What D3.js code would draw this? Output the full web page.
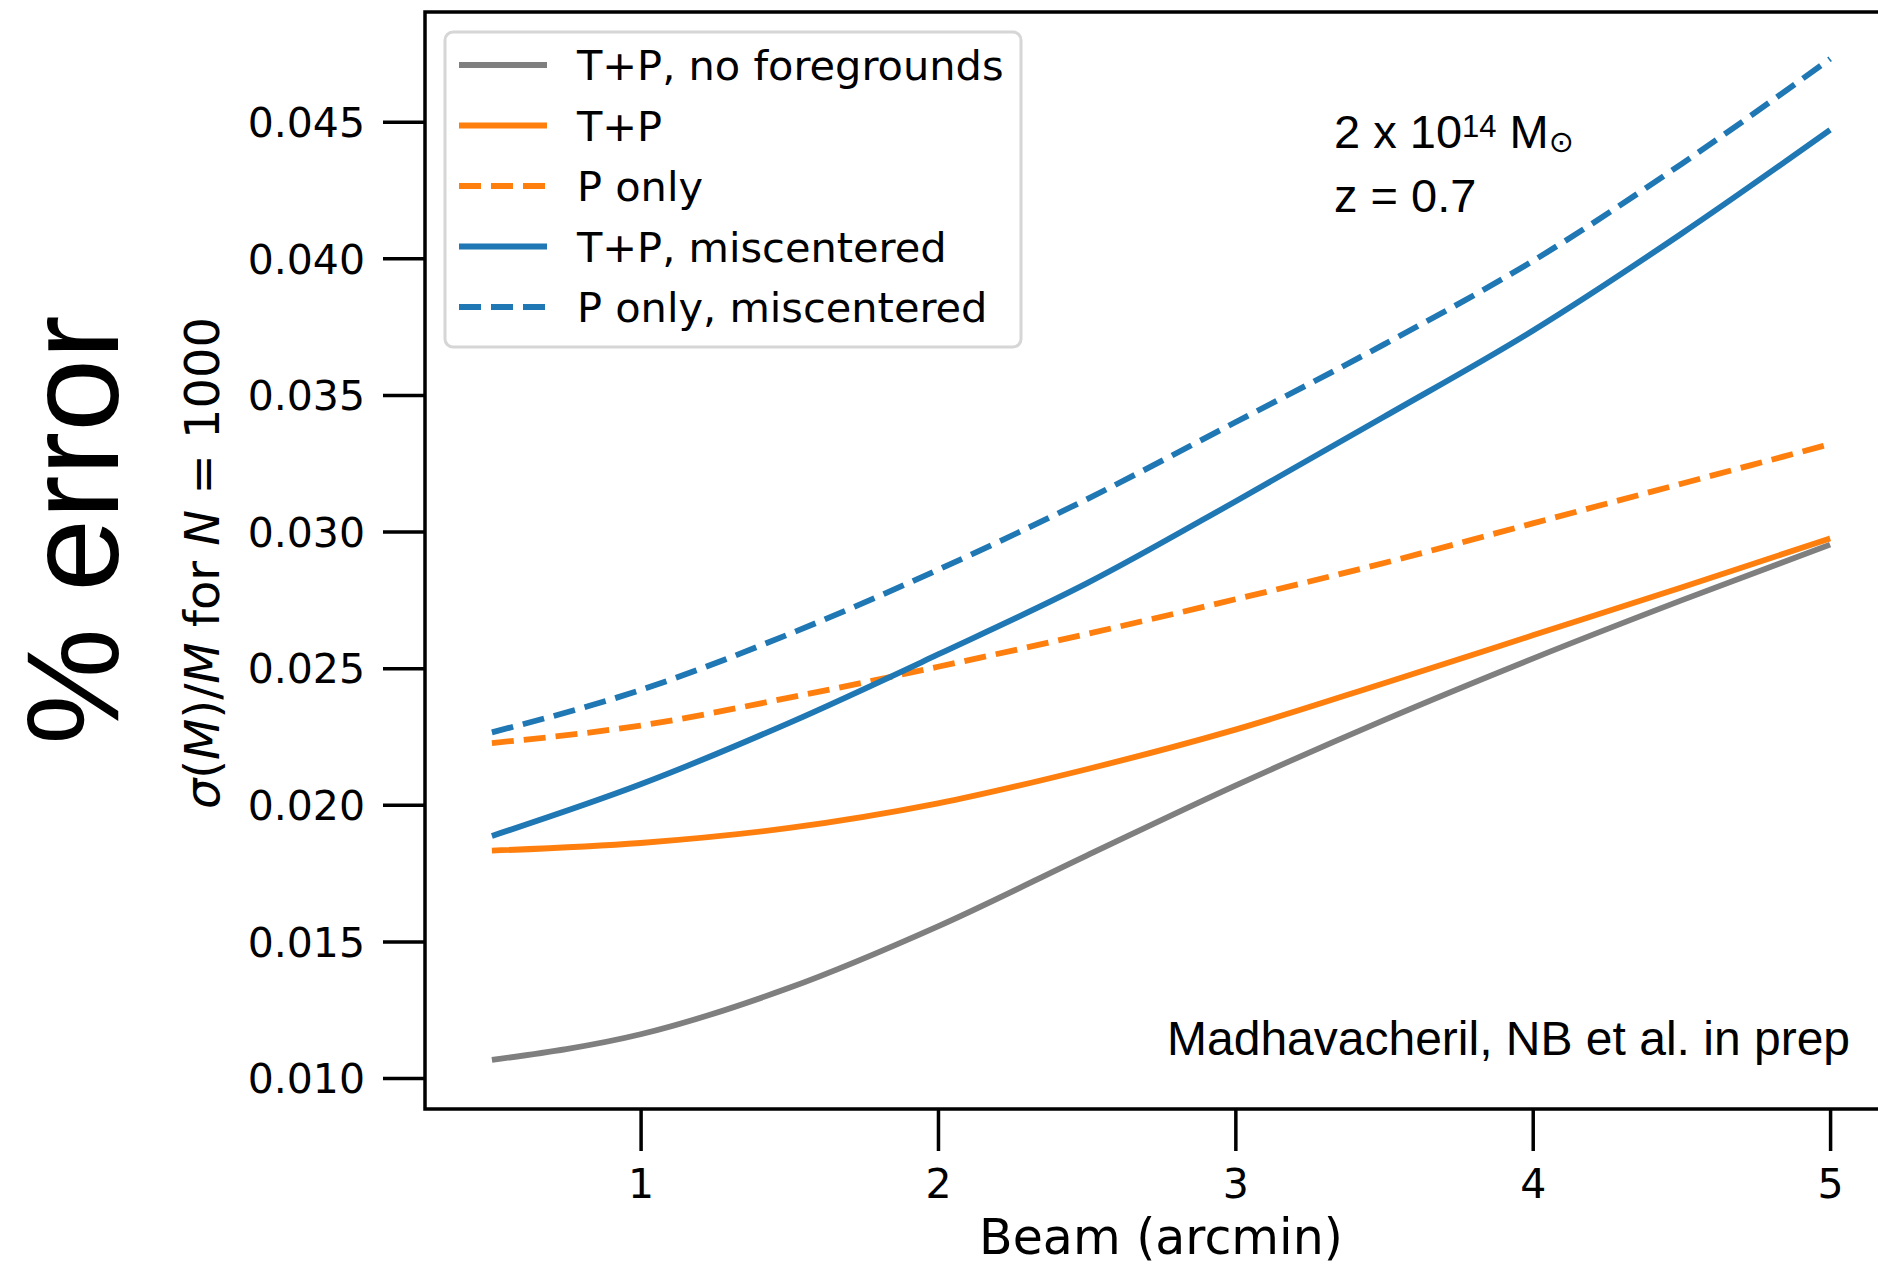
<!DOCTYPE html>
<html>
<head>
<meta charset="utf-8">
<script src="https://cdn.jsdelivr.net/npm/d3@7"></script>
<style>
  html, body { margin: 0; padding: 0; background: #fff; }
  svg { display: block; }
</style>
</head>
<body>
<div id="chart"></div>
<script>
// Beam FWHM in arcmin
const beam = [0.5, 1, 1.5, 2, 2.5, 3, 3.5, 4, 4.5, 5];

// Fractional mass error sigma(M)/M for N = 1000 clusters
const tpNoForegrounds = [0.01066, 0.01160, 0.01330, 0.01555, 0.01814, 0.02070, 0.02310, 0.02535, 0.02748, 0.02952];
const tp              = [0.01832, 0.01860, 0.01915, 0.02005, 0.02130, 0.02275, 0.02445, 0.02620, 0.02795, 0.02975];
const pOnly           = [0.02226, 0.02290, 0.02392, 0.02505, 0.02625, 0.02752, 0.02885, 0.03030, 0.03175, 0.03320];
const tpMiscentered   = [0.01886, 0.02075, 0.02300, 0.02550, 0.02810, 0.03110, 0.03420, 0.03735, 0.04090, 0.04470];
const pOnlyMiscentered= [0.02265, 0.02420, 0.02625, 0.02860, 0.03118, 0.03400, 0.03685, 0.03990, 0.04345, 0.04730];

const seriesNames = ["T+P, no foregrounds", "T+P", "P only", "T+P, miscentered", "P only, miscentered"];

const xTicks = [1, 2, 3, 4, 5];
const xTickLabels = ["1", "2", "3", "4", "5"];
const yTicks = [0.010, 0.015, 0.020, 0.025, 0.030, 0.035, 0.040, 0.045];
const yTickLabels = ["0.010", "0.015", "0.020", "0.025", "0.030", "0.035", "0.040", "0.045"];

const W = 1878, H = 1267;
const plot = { left: 425, right: 1897, top: 12, bottom: 1109 };

const svg = d3.select("#chart").append("svg")
  .attr("width", W).attr("height", H)
  .attr("viewBox", `0 0 ${W} ${H}`);

const x = d3.scaleLinear().domain([0.275, 5.225]).range([plot.left, plot.right]);
const y = d3.scaleLinear().domain([0.008865, 0.049015]).range([plot.bottom, plot.top]);

const styles = [
  { color: "#7f7f7f", dash: null },
  { color: "#ff7f0e", dash: null },
  { color: "#ff7f0e", dash: "22,10" },
  { color: "#1f77b4", dash: null },
  { color: "#1f77b4", dash: "22,10" }
];
const seriesValues = [tpNoForegrounds, tp, pOnly, tpMiscentered, pOnlyMiscentered];

svg.append("defs").append("clipPath").attr("id", "plotClip")
  .append("rect")
  .attr("x", plot.left).attr("y", plot.top)
  .attr("width", plot.right - plot.left).attr("height", plot.bottom - plot.top);

const line = d3.line()
  .x(d => x(d[0]))
  .y(d => y(d[1]))
  .curve(d3.curveMonotoneX);

const curves = svg.append("g").attr("clip-path", "url(#plotClip)");
seriesValues.forEach((vals, i) => {
  curves.append("path")
    .datum(beam.map((b, j) => [b, vals[j]]))
    .attr("d", line)
    .attr("fill", "none")
    .attr("stroke", styles[i].color)
    .attr("stroke-width", 5.8)
    .attr("stroke-dasharray", styles[i].dash)
    .attr("stroke-linejoin", "round");
});

// Axes
const xAxis = d3.axisBottom(x).tickValues(xTicks)
  .tickFormat((d, i) => xTickLabels[i]).tickSize(42).tickPadding(18);
const yAxis = d3.axisLeft(y).tickValues(yTicks)
  .tickFormat((d, i) => yTickLabels[i]).tickSize(42).tickPadding(18);

const gx = svg.append("g").attr("transform", `translate(0,${plot.bottom})`).call(xAxis);
const gy = svg.append("g").attr("transform", `translate(${plot.left},0)`).call(yAxis);
[gx, gy].forEach(g => {
  g.select(".domain").remove();
  g.selectAll(".tick line").attr("stroke", "#000").attr("stroke-width", 3.5);
  g.selectAll(".tick text")
    .attr("fill", "#000")
    .style("font-family", "'DejaVu Sans', sans-serif")
    .style("font-size", "41px");
});
gx.selectAll(".tick text").attr("dy", "0.71em");
gy.selectAll(".tick text").attr("dy", "0.36em");

// Frame
svg.append("rect")
  .attr("x", plot.left).attr("y", plot.top)
  .attr("width", plot.right - plot.left).attr("height", plot.bottom - plot.top)
  .attr("fill", "none").attr("stroke", "#000").attr("stroke-width", 3.5);

// Axis labels
svg.append("text")
  .attr("x", (plot.left + plot.right) / 2).attr("y", 1254)
  .attr("text-anchor", "middle")
  .style("font-family", "'DejaVu Sans', sans-serif")
  .style("font-size", "49px")
  .text("Beam (arcmin)");

const ylab = svg.append("text")
  .attr("transform", "translate(219,563) rotate(-90)")
  .attr("text-anchor", "middle")
  .style("font-family", "'DejaVu Sans', sans-serif")
  .style("font-size", "48px");
ylab.append("tspan").style("font-style", "italic").text("σ");
ylab.append("tspan").text("(");
ylab.append("tspan").style("font-style", "italic").text("M");
ylab.append("tspan").text(")/");
ylab.append("tspan").style("font-style", "italic").text("M");
ylab.append("tspan").text(" for ");
ylab.append("tspan").style("font-style", "italic").text("N");
ylab.append("tspan").text(" = 1000");

svg.append("text")
  .attr("transform", "translate(118,530) rotate(-90)")
  .attr("text-anchor", "middle")
  .style("font-family", "'Liberation Sans', Arial, sans-serif")
  .style("font-size", "131px")
  .text("% error");

// Legend
const legend = svg.append("g");
legend.append("rect")
  .attr("x", 445).attr("y", 32)
  .attr("width", 576).attr("height", 315)
  .attr("rx", 8).attr("ry", 8)
  .attr("fill", "#fff").attr("fill-opacity", 0.8)
  .attr("stroke", "#d6d6d6").attr("stroke-width", 3);
seriesNames.forEach((name, i) => {
  const ly = 65 + i * 60.5;
  legend.append("line")
    .attr("x1", 459).attr("x2", 547)
    .attr("y1", ly).attr("y2", ly)
    .attr("stroke", styles[i].color)
    .attr("stroke-width", 5.8)
    .attr("stroke-dasharray", styles[i].dash);
  legend.append("text")
    .attr("x", 577).attr("y", ly + 15)
    .style("font-family", "'DejaVu Sans', sans-serif")
    .style("font-size", "41.5px")
    .text(name);
});

// Annotations
const ann = svg.append("text")
  .attr("x", 1334).attr("y", 148)
  .style("font-family", "'Liberation Sans', Arial, sans-serif")
  .style("font-size", "47px");
ann.append("tspan").text("2 x 10");
ann.append("tspan").attr("dy", -11).style("font-size", "31px").text("14");
ann.append("tspan").attr("dy", 11).text(" M");
ann.append("tspan").attr("dy", 4)
  .style("font-family", "'DejaVu Sans', sans-serif")
  .style("font-size", "30px").text("⊙");

svg.append("text")
  .attr("x", 1334).attr("y", 212)
  .style("font-family", "'Liberation Sans', Arial, sans-serif")
  .style("font-size", "47px")
  .text("z = 0.7");

svg.append("text")
  .attr("x", 1167).attr("y", 1055)
  .style("font-family", "'Liberation Sans', Arial, sans-serif")
  .style("font-size", "48px")
  .text("Madhavacheril, NB et al. in prep");
</script>
</body>
</html>
